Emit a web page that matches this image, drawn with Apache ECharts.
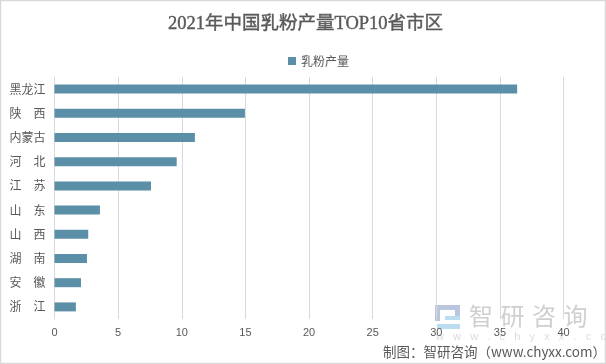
<!DOCTYPE html>
<html><head><meta charset="utf-8">
<script src="https://cdn.jsdelivr.net/npm/echarts@6/dist/echarts.min.js"></script>
<style>html,body{margin:0;padding:0;background:#fff}#c{width:606px;height:364px}</style></head>
<body><div id="c"></div>
<script>
const titleText = '2021年中国乳粉产量TOP10省市区';
const seriesName = '乳粉产量';
const categories = ['黑龙江','陕　西','内蒙古','河　北','江　苏','山　东','山　西','湖　南','安　徽','浙　江'];
const values = [36.35,14.96,11.03,9.6,7.58,3.57,2.65,2.55,2.08,1.68];
const sourceText = '制图：智研咨询（www.chyxx.com）';
const markChars = ['智','研','咨','询'];
const markSub = 'w   w   w   .   c   h   y   x   x   .   c   o   m';
const cjk = '"Noto Sans CJK SC","Liberation Sans",sans-serif';
const chart = echarts.init(document.getElementById('c'), null, {renderer:'canvas'});
chart.setOption({
  animation:false,
  backgroundColor:'#fff',
  title:{text:titleText,left:163,top:10,textStyle:{fontFamily:'"Liberation Serif","Noto Sans CJK SC",serif',fontSize:18.5,fontWeight:'normal',color:'#595959',textBorderColor:'#595959',textBorderWidth:0.4}},
  legend:{data:[seriesName],top:50,left:283,itemWidth:8,itemHeight:8,itemGap:3,icon:'rect',textStyle:{fontFamily:cjk,fontSize:12,color:'#595959'}},
  grid:{left:54.5,right:42.4,top:77,bottom:45,containLabel:false},
  xAxis:{type:'value',min:0,max:40,interval:5,
    axisLine:{show:false},axisTick:{show:false},
    splitLine:{show:true,lineStyle:{color:'#d9d9d9',width:1}},
    axisLabel:{margin:8,fontFamily:'"Liberation Sans",sans-serif',fontSize:11,color:'#595959'}},
  yAxis:{type:'category',inverse:true,data:categories,
    axisLine:{show:true,lineStyle:{color:'#d9d9d9'}},axisTick:{show:false},
    axisLabel:{margin:9,fontFamily:cjk,fontSize:12,color:'#595959'}},
  series:[{name:seriesName,type:'bar',data:values,barWidth:9,itemStyle:{color:'#5b8fa8'},z:3}],
  graphic:[
    {type:'rect',z:-10,silent:true,shape:{x:0.5,y:0.5,width:605,height:363},style:{fill:'none',stroke:'#d9d9d9',lineWidth:1.5}},
    {type:'rect',z:-5,silent:true,shape:{x:435,y:305,width:25,height:5},style:{fill:'#b9c6de'}},
    {type:'rect',z:-5,silent:true,shape:{x:435,y:310,width:5,height:11},style:{fill:'#b9c6de'}},
    {type:'rect',z:-5,silent:true,shape:{x:455,y:310,width:5,height:6},style:{fill:'#b9c6de'}},
    {type:'rect',z:-5,silent:true,shape:{x:445,y:316,width:15,height:4},style:{fill:'#bcdcf0'}},
    {type:'rect',z:-5,silent:true,shape:{x:437,y:324,width:23,height:5},style:{fill:'#bcdcf0'}},
    ...markChars.map((ch,i)=>({type:'text',z:-5,silent:true,style:{x:469+i*31.5,y:304,text:ch,fill:'#cfcfcf',font:'24px "Noto Sans CJK SC"'}})),
    {type:'text',z:-5,silent:true,style:{x:436,y:331,text:markSub,fill:'#dcdcdc',font:'11px "Liberation Sans"'}},
    {type:'text',z:10,silent:true,style:{x:383,y:345,text:sourceText,fill:'#595959',font:'13.5px "Noto Sans CJK SC"'}}
  ]
});
</script></body></html>
